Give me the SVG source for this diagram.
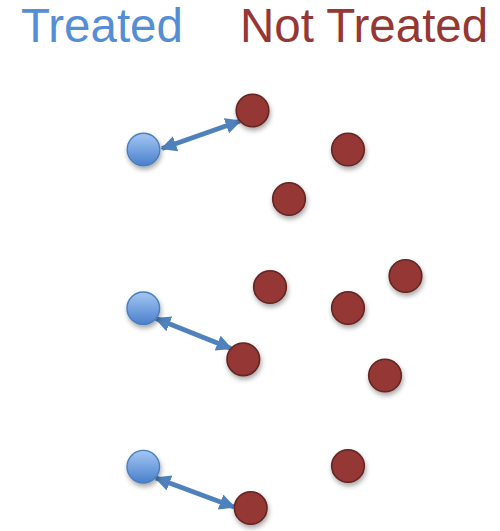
<svg xmlns="http://www.w3.org/2000/svg" width="500" height="531" viewBox="0 0 500 531">
<style>
.lbl{font-family:"Liberation Sans",Arial,sans-serif;font-size:47.5px}
.red{fill:#953735;stroke:#632523;stroke-width:1.6}
.blue{fill:url(#bg);stroke:#4A7EBB;stroke-width:1.4}
.conn{stroke:#4F81BD;stroke-width:5;fill:none;marker-start:url(#ah);marker-end:url(#ah)}
</style>
<defs>
<linearGradient id="bg" x1="0" y1="0" x2="0" y2="1">
<stop offset="0" stop-color="#A3C7F4"/>
<stop offset="1" stop-color="#4A7FCB"/>
</linearGradient>
<filter id="sh" x="-50%" y="-50%" width="200%" height="200%">
<feDropShadow dx="1" dy="3" stdDeviation="2.5" flood-color="#000" flood-opacity="0.35"/>
</filter>
<marker id="ah" viewBox="0 0 10 10" refX="9" refY="5" markerWidth="16" markerHeight="16" markerUnits="userSpaceOnUse" orient="auto-start-reverse">
<path d="M0,0 L10,5 L0,10 z" fill="#4F81BD"/>
</marker>
</defs>
<rect width="500" height="531" fill="#fff"/>
<text class="lbl" x="21" y="42" fill="#558ED5">Treated</text>
<text class="lbl" x="240" y="42" fill="#953735">Not Treated</text>
<g id="connectors">
<line class="conn" x1="162" y1="148.5" x2="240" y2="121"/>
<line class="conn" x1="156" y1="318.5" x2="231" y2="348.5"/>
<line class="conn" x1="156" y1="478" x2="234" y2="507"/>
</g>
<g filter="url(#sh)">
<g id="t1"><circle class="blue" cx="143.5" cy="149.5" r="16.3"/></g>
<g id="t2"><circle class="blue" cx="143.3" cy="308.3" r="16.3"/></g>
<g id="t3"><circle class="blue" cx="143.3" cy="466.7" r="16.3"/></g>
<g id="n1"><circle class="red" cx="252.5" cy="110.5" r="16.3"/></g>
<g id="n2"><circle class="red" cx="348" cy="149.5" r="16.3"/></g>
<g id="n3"><circle class="red" cx="289" cy="199" r="16.3"/></g>
<g id="n4"><circle class="red" cx="270" cy="287" r="16.3"/></g>
<g id="n5"><circle class="red" cx="405.5" cy="276" r="16.3"/></g>
<g id="n6"><circle class="red" cx="348" cy="308" r="16.3"/></g>
<g id="n7"><circle class="red" cx="243.3" cy="359.3" r="16.3"/></g>
<g id="n8"><circle class="red" cx="385" cy="375.5" r="16.3"/></g>
<g id="n9"><circle class="red" cx="348" cy="466" r="16.3"/></g>
<g id="n10"><circle class="red" cx="250.7" cy="508" r="16.3"/></g>
</g>
</svg>
